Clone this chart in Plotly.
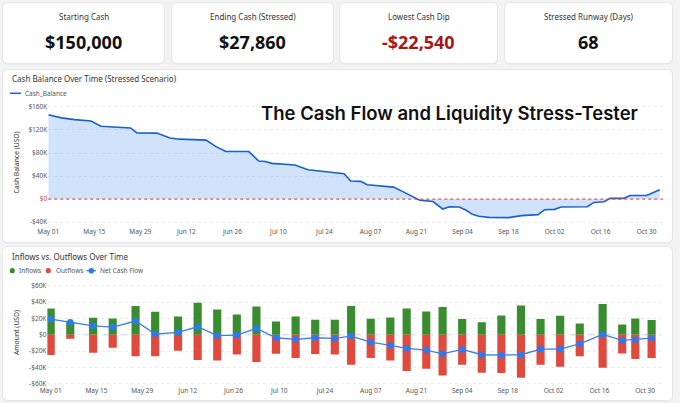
import plotly.graph_objects as go

W, H = 680, 403

# ---------------- data ----------------
card_titles = ["Starting Cash", "Ending Cash (Stressed)", "Lowest Cash Dip", "Stressed Runway (Days)"]
card_values = ["$150,000", "$27,860", "-$22,540", "68"]

balance_dates = [
    "2024-05-01", "2024-05-05", "2024-05-09", "2024-05-14", "2024-05-17", "2024-05-21",
    "2024-05-26", "2024-05-28", "2024-06-03", "2024-06-07", "2024-06-10", "2024-06-18",
    "2024-06-21", "2024-06-24", "2024-07-01", "2024-07-04", "2024-07-06", "2024-07-08",
    "2024-07-15", "2024-07-19", "2024-07-23", "2024-07-30", "2024-08-01", "2024-08-04",
    "2024-08-06", "2024-08-14", "2024-08-17", "2024-08-21", "2024-08-22", "2024-08-26",
    "2024-08-29", "2024-08-31", "2024-09-03", "2024-09-05", "2024-09-07", "2024-09-09",
    "2024-09-12", "2024-09-18", "2024-09-22", "2024-09-27", "2024-09-29", "2024-10-02",
    "2024-10-04", "2024-10-12", "2024-10-14", "2024-10-17", "2024-10-19", "2024-10-23",
    "2024-10-25", "2024-10-30", "2024-11-03",
]
balance_values = [
    146500, 141000, 138000, 135500, 126500, 125500,
    123500, 115000, 114500, 106000, 104000, 102400,
    91000, 82500, 82500, 66000, 65200, 62000,
    59200, 51000, 48800, 44000, 31300, 30800,
    25000, 20700, 12500, 300, -2000, -4300,
    -17200, -13200, -13800, -19000, -26500, -29900,
    -31700, -32200, -28800, -27000, -18400, -17800,
    -13800, -13200, -5800, -4600, 1200, 1200,
    6300, 6300, 16100,
]

flow_dates = [
    "2024-05-01", "2024-05-07", "2024-05-14", "2024-05-20", "2024-05-27", "2024-06-02",
    "2024-06-09", "2024-06-15", "2024-06-21", "2024-06-27", "2024-07-03", "2024-07-09",
    "2024-07-15", "2024-07-21", "2024-07-27", "2024-08-01", "2024-08-07", "2024-08-13",
    "2024-08-18", "2024-08-24", "2024-08-29", "2024-09-04", "2024-09-10", "2024-09-16",
    "2024-09-22", "2024-09-28", "2024-10-04", "2024-10-10", "2024-10-17", "2024-10-23",
    "2024-10-27", "2024-11-01",
]
inflows = [
    32400, 16000, 20900, 20000, 35200, 28300,
    22500, 39300, 31100, 25000, 34800, 16400,
    22500, 18400, 18400, 35200, 19700, 21300,
    32400, 28700, 34000, 19300, 15200, 23800,
    36100, 19300, 23400, 13900, 37700, 12700,
    20000, 18000,
]
outflows = [
    -25000, -4900, -22100, -16000, -26600, -26600,
    -19700, -31100, -31600, -24200, -33600, -23400,
    -28700, -23800, -24200, -36900, -28700, -31600,
    -44700, -41800, -50000, -36900, -46700, -47100,
    -52900, -36900, -39300, -26600, -40600, -23000,
    -29900, -28700,
]
net_flow = [
    19300, 15500, 11000, 9400, 16800, 800,
    2900, 9800, -1200, -400, 7800, -3700,
    -5700, -3700, -4500, -1600, -9000, -13100,
    -16800, -18900, -23400, -18000, -24600, -25000,
    -24600, -17600, -17600, -11100, 400, -7000,
    -6100, -4100,
]

top_tickvals = [-40000, 0, 40000, 80000, 120000, 160000]
top_ticktext = ["-$40K", "<span style='color:#e03a3a'>$0</span>", "$40K", "$80K", "$120K", "$160K"]
bot_tickvals = [-60000, -40000, -20000, 0, 20000, 40000, 60000]
bot_ticktext = ["-$60K", "-$40K", "-$20K", "$0", "$20K", "$40K", "$60K"]

# ---------------- helpers ----------------
def px(x):
    return x / W

def py(y):
    return 1 - y / H

def rounded(x0, y0, x1, y1, r=5):
    X0, X1, Y0, Y1 = px(x0), px(x1), py(y0), py(y1)
    rx, ry = r / W, r / H
    return (f"M {X0+rx},{Y0} L {X1-rx},{Y0} Q {X1},{Y0} {X1},{Y0-ry} "
            f"L {X1},{Y1+ry} Q {X1},{Y1} {X1-rx},{Y1} L {X0+rx},{Y1} "
            f"Q {X0},{Y1} {X0},{Y1+ry} L {X0},{Y0-ry} Q {X0},{Y0} {X0+rx},{Y0} Z")

FONT = "Noto Sans"
DAY = 86400000
GREEN, RED, BLUE_LINE, BLUE_DOT, AREA_LINE = "#3a8d2f", "#e04a3d", "#3a7de8", "#2a7bf2", "#1a5fd0"

fig = go.Figure()

# top chart
fig.add_trace(go.Scatter(
    x=balance_dates, y=balance_values, mode="lines", name="Cash_Balance",
    line=dict(color=AREA_LINE, width=1.6), fill="tozeroy",
    fillcolor="rgba(120,175,240,0.35)", xaxis="x", yaxis="y",
))

# bottom chart
fig.add_trace(go.Bar(
    x=flow_dates, y=inflows, name="Inflows", marker=dict(color=GREEN, line=dict(width=0)),
    width=2.5 * DAY, xaxis="x2", yaxis="y2",
))
fig.add_trace(go.Bar(
    x=flow_dates, y=outflows, name="Outflows", marker=dict(color=RED, line=dict(width=0)),
    width=2.5 * DAY, xaxis="x2", yaxis="y2",
))
fig.add_trace(go.Scatter(
    x=flow_dates, y=net_flow, mode="lines+markers", name="Net Cash Flow",
    line=dict(color=BLUE_LINE, width=1.3), marker=dict(color=BLUE_DOT, size=6.5),
    xaxis="x2", yaxis="y2",
))

shapes = []
# card + panel backgrounds
boxes = [(3, 3, 164, 63), (172, 3, 333, 63), (340, 3, 497, 63), (505, 3, 672, 63),
         (3, 70, 672, 242), (3, 247, 672, 400)]
for (x0, y0, x1, y1) in boxes:
    shapes.append(dict(type="path", path=rounded(x0 - 1, y0 - 1, x1 + 1, y1 + 1.5, 6), xref="paper", yref="paper",
                       fillcolor="rgba(0,0,0,0.05)", line=dict(width=0), layer="below"))
    shapes.append(dict(type="path", path=rounded(x0, y0, x1, y1, 5), xref="paper", yref="paper",
                       fillcolor="white", line=dict(width=0), layer="below"))

shapes.append(dict(type="line", xref="x domain", yref="y", x0=0, x1=1, y0=0, y1=0,
                   line=dict(color="#e03a3a", width=1, dash="dot"), layer="above"))
shapes.append(dict(type="line", xref="x2 domain", yref="y2", x0=0, x1=1, y0=0, y1=0,
                   line=dict(color="#b5cff2", width=1, dash="dash"), layer="below"))

# legend glyphs
shapes.append(dict(type="line", xref="paper", yref="paper", x0=px(10), x1=px(21), y0=py(93.3), y1=py(93.3),
                   line=dict(color=AREA_LINE, width=1.5)))
for cx, col in [(12.3, GREEN), (48.3, RED)]:
    shapes.append(dict(type="circle", xref="paper", yref="paper", x0=px(cx - 2.6), x1=px(cx + 2.6),
                       y0=py(270.7 + 2.6), y1=py(270.7 - 2.6), fillcolor=col, line=dict(width=0)))
shapes.append(dict(type="line", xref="paper", yref="paper", x0=px(86.5), x1=px(96), y0=py(270.7), y1=py(270.7),
                   line=dict(color=BLUE_LINE, width=1.3)))
shapes.append(dict(type="circle", xref="paper", yref="paper", x0=px(91.3 - 2.8), x1=px(91.3 + 2.8),
                   y0=py(270.7 + 2.8), y1=py(270.7 - 2.8), fillcolor=BLUE_DOT, line=dict(width=0)))

annotations = []
def note(x, y, text, size, color="#333", xanchor="center", family=FONT, weight=None):
    f = dict(family=family, size=size, color=color)
    if weight:
        f["weight"] = weight
    annotations.append(dict(x=px(x), y=py(y), xref="paper", yref="paper", text=text, showarrow=False,
                            xanchor=xanchor, yanchor="middle", font=f))

card_centers = [(3 + 164) / 2, (172 + 333) / 2, (340 + 497) / 2, (505 + 672) / 2]
for i, (t, v) in enumerate(zip(card_titles, card_values)):
    note(card_centers[i], 16, t, 8, "#333")
    note(card_centers[i], 42, f"<b>{v}</b>", 18, "#a51818" if v.startswith("-") else "#111")

note(10, 78, "Cash Balance Over Time (Stressed Scenario)", 8, "#333", "left")
note(10, 256, "Inflows vs. Outflows Over Time", 8, "#333", "left")
note(23, 93.3, "Cash_Balance", 6.5, "#555", "left")
note(17, 270.7, "Inflows", 6.5, "#555", "left")
note(54, 270.7, "Outflows", 6.5, "#555", "left")
note(97.5, 270.7, "Net Cash Flow", 6.5, "#555", "left")
note(449, 113, "The Cash Flow and Liquidity Stress-Tester", 18.5, "#111", "center", "Inter", 600)

tickfont = dict(family=FONT, size=6.5, color="#555")
common_x = dict(type="date", tickformat="%b %d", dtick=14 * DAY, tick0="2024-05-01",
                showgrid=False, zeroline=False, ticks="", tickfont=tickfont, showline=False,
                automargin=False)
common_y = dict(showgrid=True, gridcolor="#ebebeb", griddash="dot", zeroline=False,
                ticks="", tickfont=tickfont, showline=False, automargin=False)

fig.update_layout(
    width=W, height=H, autosize=False,
    margin=dict(l=0, r=0, t=0, b=0, pad=0),
    paper_bgcolor="#f3f3f3", plot_bgcolor="rgba(0,0,0,0)",
    barmode="relative", showlegend=False,
    xaxis=dict(domain=[px(48.3), px(663)], range=["2024-05-01", "2024-11-04"], anchor="y",
               ticklabelstandoff=1, **common_x),
    yaxis=dict(domain=[py(225), py(100)], range=[-45000, 172000], anchor="x",
               tickvals=top_tickvals, ticktext=top_ticktext,
               title=dict(text="Cash Balance (USD)", font=dict(family=FONT, size=6.8, color="#333"), standoff=8),
               **common_y),
    xaxis2=dict(domain=[px(47.4), px(661.4)], range=["2024-04-30", "2024-11-04"], anchor="y2", **common_x),
    yaxis2=dict(domain=[py(385), py(280)], range=[-61800, 67300], anchor="x2",
                tickvals=bot_tickvals, ticktext=bot_ticktext,
                title=dict(text="Amount (USD)", font=dict(family=FONT, size=6.8, color="#333"), standoff=8),
                **common_y),
    shapes=shapes,
    annotations=annotations,
    hovermode=False,
)

fig.write_html("out.html", config={"displayModeBar": False},
               post_script="document.body.style.margin='0';document.body.style.overflow='hidden';")
